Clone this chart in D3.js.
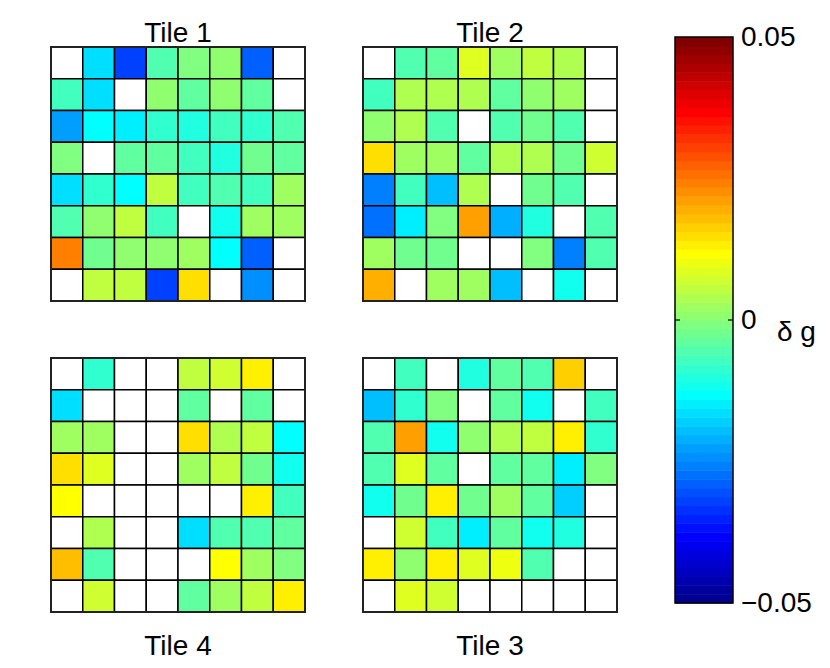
<!DOCTYPE html>
<html>
<head>
<meta charset="utf-8">
<script src="https://cdn.jsdelivr.net/npm/d3@7"></script>
<style>
  body { margin: 0; background: #fff; }
  svg text { font-family: "Liberation Sans", Arial, Helvetica, sans-serif; fill: #000; }
</style>
</head>
<body>
<svg id="chart" width="830" height="668"></svg>
<script>
// delta g per cell, rows top to bottom; null = no data (white)
var tile1 = [
  [null, -0.0168, -0.0328, -0.0053, -0.0013, 0.0007, -0.0288, null],
  [-0.0073, -0.0168, null, 0.0007, -0.0038, 0.0007, -0.0038, null],
  [-0.0228, -0.0128, -0.0143, -0.0088, -0.0103, -0.0068, -0.0088, -0.0053],
  [-0.0008, null, -0.0038, -0.0038, -0.0068, -0.0098, -0.0023, -0.0038],
  [-0.0168, -0.0088, -0.0133, 0.0052, -0.0068, -0.0053, -0.0068, 0.0022],
  [-0.0053, 0.0007, 0.0052, -0.0068, null, -0.0118, 0.0022, 0.0022],
  [0.0242, -0.0023, 0.0007, 0.0007, 0.0022, -0.0133, -0.0288, null],
  [null, 0.0052, 0.0047, -0.0318, 0.0142, null, -0.0243, null]
];
var tile2 = [
  [null, -0.0053, -0.0038, 0.0087, 0.0022, 0.0052, 0.0037, null],
  [-0.0068, 0.0037, 0.0037, 0.0037, -0.0038, 0.0007, 0.0022, null],
  [0.0007, 0.0037, -0.0053, null, -0.0053, -0.0023, -0.0053, null],
  [0.0147, 0.0022, 0.0022, -0.0038, 0.0037, 0.0037, -0.0023, 0.0067],
  [-0.0258, -0.0068, -0.0198, 0.0037, null, -0.0023, -0.0053, null],
  [-0.0268, -0.0143, -0.0008, 0.0212, -0.0218, -0.0103, null, -0.0053],
  [0.0022, -0.0023, -0.0023, null, null, -0.0008, -0.0258, -0.0053],
  [0.0192, null, 0.0022, 0.0022, -0.0198, null, -0.0118, null]
];
var tile3 = [
  [null, -0.0068, null, -0.0103, -0.0038, -0.0053, 0.0162, null],
  [-0.0198, -0.0088, -0.0008, null, -0.0038, -0.0118, null, -0.0068],
  [-0.0053, 0.0212, -0.0118, 0.0007, 0.0037, 0.0052, 0.0127, -0.0088],
  [-0.0053, 0.0087, -0.0038, null, -0.0038, -0.0038, -0.0143, -0.0008],
  [-0.0118, -0.0023, 0.0137, -0.0023, 0.0022, -0.0038, -0.0178, null],
  [null, 0.0067, -0.0068, -0.0143, -0.0038, -0.0118, -0.0103, null],
  [0.0137, 0.0007, 0.0137, 0.0087, 0.0102, -0.0053, null, null],
  [null, 0.0087, 0.0067, null, null, null, null, null]
];
var tile4 = [
  [null, -0.0088, null, null, 0.0052, 0.0067, 0.0137, null],
  [-0.0168, null, null, null, -0.0038, null, -0.0038, null],
  [0.0022, 0.0022, null, null, 0.0142, 0.0037, 0.0052, -0.0133],
  [0.0142, 0.0087, null, null, 0.0022, 0.0052, -0.0023, -0.0118],
  [0.0117, null, null, null, null, null, 0.0137, -0.0068],
  [null, 0.0037, null, null, -0.0168, -0.0053, -0.0053, -0.0038],
  [0.0177, -0.0053, null, null, null, 0.0117, 0.0022, -0.0008],
  [null, 0.0067, null, null, -0.0038, 0.0022, 0.0052, 0.0137]
];
var tileNames = ["Tile 1", "Tile 2", "Tile 4", "Tile 3"];
var colorLimits = [-0.05, 0.05];
var colorTicks = [-0.05, 0, 0.05];
var colorLabel = "\u03b4 g";

var svg = d3.select("#chart");

// matlab jet(64)
function jetRow(i) {
  function c(v) { return Math.max(0, Math.min(1, v)); }
  var r = c(Math.min((i - 24) / 16, (72 - i) / 16)),
    g = c(Math.min((i - 8) / 16, (56 - i) / 16)),
    b = c(Math.min((i + 8) / 16, (40 - i) / 16));
  return d3.rgb(r * 255, g * 255, b * 255).toString();
}
var jet = d3.range(1, 65).map(jetRow);

var color = d3.scaleQuantize().domain(colorLimits).range(jet);

var panels = [
  { data: tile1, name: tileNames[0], x: 51, y: 47, titleY: 42 },
  { data: tile2, name: tileNames[1], x: 363, y: 47, titleY: 42 },
  { data: tile4, name: tileNames[2], x: 51, y: 358, titleY: 655 },
  { data: tile3, name: tileNames[3], x: 363, y: 358, titleY: 655 }
];
var size = 254;

panels.forEach(function (p) {
  var xs = d3.scaleBand().domain(d3.range(8)).range([0, size]);
  var ys = d3.scaleBand().domain(d3.range(8)).range([0, size]);

  var g = svg.append("g")
    .attr("transform", "translate(" + p.x + "," + p.y + ")");

  var cells = [];
  p.data.forEach(function (row, r) {
    row.forEach(function (v, c) {
      cells.push({ r: r, c: c, v: v });
    });
  });

  g.selectAll("rect.cell")
    .data(cells)
    .enter().append("rect")
    .attr("class", "cell")
    .attr("x", function (d) { return xs(d.c); })
    .attr("y", function (d) { return ys(d.r); })
    .attr("width", xs.bandwidth())
    .attr("height", ys.bandwidth())
    .attr("fill", function (d) { return d.v === null ? "#fff" : color(d.v); })
    .attr("stroke", "#000")
    .attr("stroke-width", 1.5);

  g.append("rect")
    .attr("width", size)
    .attr("height", size)
    .attr("fill", "none")
    .attr("stroke", "#222")
    .attr("stroke-width", 2);

  svg.append("text")
    .attr("x", p.x + size / 2)
    .attr("y", p.titleY)
    .attr("text-anchor", "middle")
    .style("font-size", "28px")
    .text(p.name);
});

// colorbar
var cbX = 675, cbW = 58, cbTop = 37, cbBottom = 603;
var cy = d3.scaleLinear().domain(colorLimits).range([cbBottom, cbTop]);
var step = (colorLimits[1] - colorLimits[0]) / jet.length;

var cb = svg.append("g");
cb.selectAll("rect")
  .data(jet)
  .enter().append("rect")
  .attr("x", cbX)
  .attr("y", function (d, i) { return cy(colorLimits[0] + (i + 1) * step); })
  .attr("width", cbW)
  .attr("height", function () { return cy(0) - cy(step) + 0.5; })
  .attr("fill", function (d) { return d; });

cb.append("rect")
  .attr("x", cbX)
  .attr("y", cbTop)
  .attr("width", cbW)
  .attr("height", cbBottom - cbTop)
  .attr("fill", "none")
  .attr("stroke", "#000")
  .attr("stroke-width", 1.5);

var axis = d3.axisRight(cy)
  .tickValues(colorTicks)
  .tickSize(0)
  .tickPadding(8)
  .tickFormat(function (d) { return d === 0 ? "0" : (d < 0 ? "\u2212" : "") + Math.abs(d).toFixed(2); });

var ax = svg.append("g")
  .attr("transform", "translate(" + (cbX + cbW) + ",0)")
  .call(axis);
ax.select(".domain").remove();
ax.selectAll("text")
  .style("font-size", "28px")
  .style("font-family", "'Liberation Sans', Arial, sans-serif")
  .attr("fill", "#000");

// small inner tick marks at the middle tick
colorTicks.filter(function (t) { return t > colorLimits[0] && t < colorLimits[1]; })
  .forEach(function (t) {
    cb.append("line")
      .attr("x1", cbX).attr("x2", cbX + 5)
      .attr("y1", cy(t)).attr("y2", cy(t))
      .attr("stroke", "#000").attr("stroke-width", 1.2);
    cb.append("line")
      .attr("x1", cbX + cbW - 5).attr("x2", cbX + cbW)
      .attr("y1", cy(t)).attr("y2", cy(t))
      .attr("stroke", "#000").attr("stroke-width", 1.2);
  });

svg.append("text")
  .attr("x", 777)
  .attr("y", 341)
  .style("font-size", "28px")
  .text(colorLabel);
</script>
</body>
</html>
